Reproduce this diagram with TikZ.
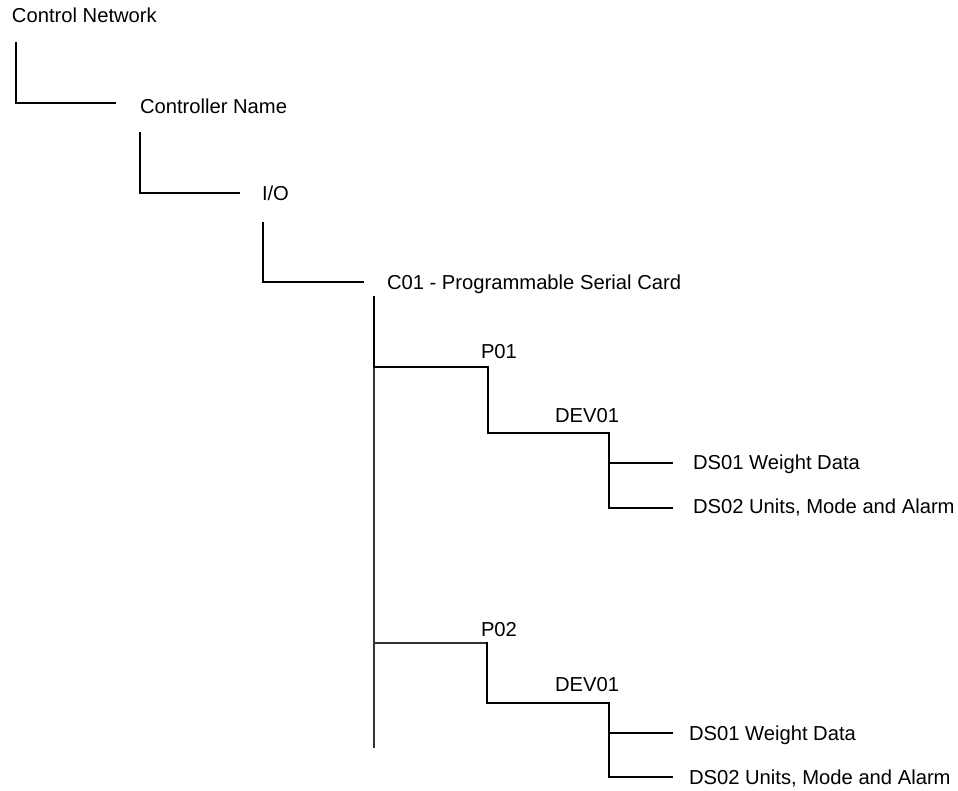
\documentclass[tikz,border=0pt]{standalone}
\usepackage{fontspec}
\setmainfont{Liberation Sans}
\begin{document}
\begin{tikzpicture}[x=1pt,y=-1pt,
  lbl/.style={anchor=base west,inner sep=0pt,outer sep=0pt,font=\fontsize{20.2}{24}\selectfont},
  wire/.style={draw=black,line width=1.8pt,line cap=rect},
  thinwire/.style={draw=black!80,line width=1.1pt}]
\useasboundingbox (0,0) rectangle (958,791);
% labels
\node[lbl] (cn) at (12,23) {Control Network};
\node[lbl] (ctl) at (140,114) {Controller Name};
\node[lbl] (io) at (262,201) {I/O};
\node[lbl] (c01) at (387,290) {C01 - Programmable Serial Card};
\node[lbl] (p01) at (481,359) {P01};
\node[lbl] (dev1) at (555,422) {DEV01};
\node[lbl] (ds1a) at (693,469) {DS01 Weight Data};
\node[lbl] (ds2a) at (693,513) {DS02 Units, Mode and Alarm};
\node[lbl] (p02) at (481,636) {P02};
\node[lbl] (dev2) at (555,691) {DEV01};
\node[lbl] (ds1b) at (689,740) {DS01 Weight Data};
\node[lbl] (ds2b) at (689,784) {DS02 Units, Mode and Alarm};
% corner coordinates
\coordinate (a0) at (16,43);  \coordinate (a1) at (16,103);  \coordinate (a2) at (115,103);
\coordinate (b0) at (140,133); \coordinate (b1) at (140,193); \coordinate (b2) at (239,193);
\coordinate (c0) at (263,223); \coordinate (c1) at (263,282); \coordinate (c2) at (363,282);
\coordinate (t0) at (374,297); \coordinate (t1) at (374,367); \coordinate (t2) at (374,748);
\coordinate (t3) at (374,643);
\coordinate (p1a) at (488,367); \coordinate (p1b) at (488,433);
\coordinate (d1a) at (609,433); \coordinate (d1b) at (609,463); \coordinate (d1c) at (609,508);
\coordinate (e1a) at (672,463); \coordinate (e1b) at (672,508);
\coordinate (p2a) at (487,643); \coordinate (p2b) at (487,703);
\coordinate (d2a) at (609,703); \coordinate (d2b) at (609,733); \coordinate (d2c) at (609,777);
\coordinate (e2a) at (672,733); \coordinate (e2b) at (672,777);
% connectors
\draw[wire] (a0) -- (a1) -- (a2);
\draw[wire] (b0) -- (b1) -- (b2);
\draw[wire] (c0) -- (c1) -- (c2);
\draw[wire] (t0) -- (t1);
\draw[thinwire] (t1) -- (t2);
\draw[wire] (t1) -- (p1a) -- (p1b) -- (d1a) -- (d1c) -- (e1b);
\draw[wire] (d1b) -- (e1a);
\draw[thinwire] (t3) -- (p2a);
\draw[wire] (p2a) -- (p2b) -- (d2a) -- (d2c) -- (e2b);
\draw[wire] (d2b) -- (e2a);
\end{tikzpicture}
\end{document}
